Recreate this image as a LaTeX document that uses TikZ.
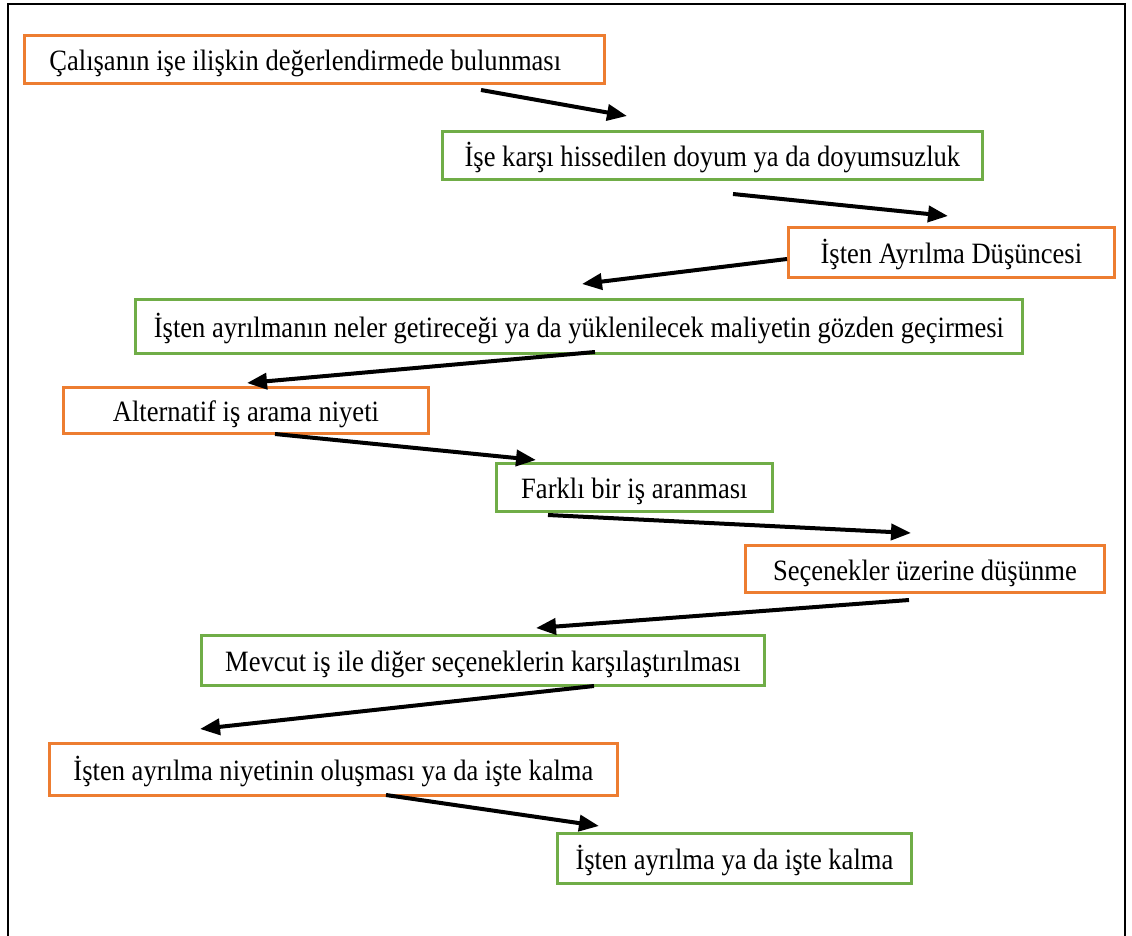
\documentclass[tikz,border=0pt]{standalone}
\usepackage{fontspec}
\setmainfont{Liberation Serif}[FakeStretch=0.9]
\usetikzlibrary{arrows.meta}
\definecolor{boxorange}{HTML}{ED7D31}
\definecolor{boxgreen}{HTML}{70AD47}
\begin{document}
\begin{tikzpicture}[x=1pt,y=-1pt,
  stage/.style={draw, line width=2.8pt, anchor=north west, inner sep=0pt,
    text height=23pt, text depth=0pt,
    font=\fontsize{29.5}{32}\selectfont, fill=white},
  ostage/.style={stage, draw=boxorange},
  gstage/.style={stage, draw=boxgreen},
  flow/.style={line width=4pt, -{Triangle[length=20pt,width=16pt]}}]

\useasboundingbox (0,0) rectangle (1132,936);
\clip (0,0) rectangle (1132,936);

% outer frame (open at the bottom edge of the page)
\draw[line width=2.6pt] (8,960) -- (8,4) -- (1125,4) -- (1125,960);

% process stages
\node[ostage, minimum height=48pt, inner xsep=25pt] (b1) at (23,34)
  {\makebox[530pt][l]{Çalışanın işe ilişkin değerlendirmede bulunması}};
\node[gstage, minimum width=540pt, minimum height=48pt] (b2) at (441,130)
  {İşe karşı hissedilen doyum ya da doyumsuzluk};
\node[ostage, minimum width=326pt, minimum height=50pt] (b3) at (787,226)
  {İşten Ayrılma Düşüncesi};
\node[gstage, minimum width=887pt, minimum height=54pt] (b4) at (134,298)
  {İşten ayrılmanın neler getireceği ya da yüklenilecek maliyetin gözden geçirmesi};
\node[ostage, minimum width=365pt, minimum height=46pt] (b5) at (62,386)
  {Alternatif iş arama niyeti};
\node[gstage, minimum width=276pt, minimum height=48pt] (b6) at (495,462)
  {Farklı bir iş aranması};
\node[ostage, minimum width=359pt, minimum height=47pt] (b7) at (744,544)
  {Seçenekler üzerine düşünme};
\node[gstage, minimum width=563pt, minimum height=50pt] (b8) at (200,634)
  {Mevcut iş ile diğer seçeneklerin karşılaştırılması};
\node[ostage, minimum width=568pt, minimum height=52pt] (b9) at (48,742)
  {İşten ayrılma niyetinin oluşması ya da işte kalma};
\node[gstage, minimum width=354pt, minimum height=50pt] (b10) at (556,832)
  {İşten ayrılma ya da işte kalma};

% arrow end points
\coordinate (s1) at (481,90);  \coordinate (e1) at (627,116);
\coordinate (s2) at (733,194); \coordinate (e2) at (948,216);
\coordinate (s3) at (787,259); \coordinate (e3) at (582,284);
\coordinate (s4) at (595,352); \coordinate (e4) at (247,383);
\coordinate (s5) at (275,434); \coordinate (e5) at (536,460);
\coordinate (s6) at (548,515); \coordinate (e6) at (911,533);
\coordinate (s7) at (909,600); \coordinate (e7) at (536,628);
\coordinate (s8) at (594,686); \coordinate (e8) at (200,729);
\coordinate (s9) at (386,795); \coordinate (e9) at (599,826);

\foreach \i in {1,...,9} \draw[flow] (s\i) -- (e\i);
\end{tikzpicture}
\end{document}
